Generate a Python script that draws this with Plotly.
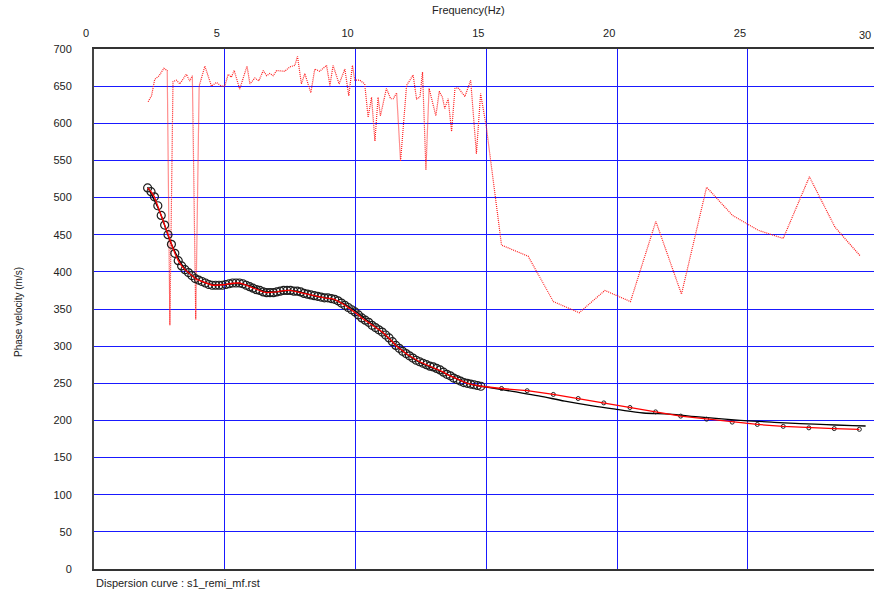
import plotly.graph_objects as go

# Observed dispersion points (dense part), Hz / m/s
obs_freq = [2.05, 2.18, 2.31, 2.44, 2.57, 2.70, 2.83, 2.96, 3.09, 3.22, 3.35, 3.48, 3.61, 3.74, 3.87,
            4.00, 4.13, 4.26, 4.39, 4.52, 4.65, 4.78, 4.91, 5.04, 5.17, 5.30, 5.43, 5.56, 5.69, 5.82,
            5.95, 6.08, 6.21, 6.34, 6.47, 6.60, 6.73, 6.86, 6.99, 7.12, 7.25, 7.38, 7.51, 7.64, 7.77,
            7.90, 8.03, 8.16, 8.29, 8.42, 8.55, 8.68, 8.81, 8.94, 9.07, 9.20, 9.33, 9.46, 9.59, 9.72,
            9.85, 9.98, 10.11, 10.24, 10.37, 10.50, 10.63, 10.76, 10.89, 11.02, 11.15, 11.28, 11.41,
            11.54, 11.67, 11.80, 11.93, 12.06, 12.19, 12.32, 12.45, 12.58, 12.71, 12.84, 12.97, 13.10,
            13.23, 13.36, 13.49, 13.62, 13.75, 13.88, 14.01, 14.14, 14.27, 14.40, 14.53, 14.66, 14.79]
obs_vel = [513, 508, 501, 489, 476, 463, 450, 437, 425, 415, 408, 403, 399, 395, 391,
           389, 387, 385, 383, 382, 382, 382, 382, 383, 384, 385, 385, 385, 384, 382,
           380, 378, 376, 375, 373, 372, 372, 372, 373, 374, 375, 375, 375, 374, 374,
           373, 371, 370, 369, 368, 367, 366, 365, 365, 364, 363, 361, 358, 355, 352,
           349, 346, 342, 338, 335, 332, 328, 325, 322, 319, 315, 311, 306,
           301, 297, 293, 290, 287, 284, 281, 279, 277, 275, 273, 272, 270,
           268, 265, 262, 260, 257, 255, 253, 251, 250, 249, 248, 247, 246]

# Observed dispersion points (sparse part)
obs2_freq = [15.58, 16.56, 17.56, 18.51, 19.49, 20.49, 21.47, 22.43, 23.42, 24.40, 25.36, 26.35, 27.33, 28.30, 29.26]
obs2_vel = [243, 240, 235, 229.5, 223.6, 217.4, 211.5, 205.8, 201.7, 197.7, 194.6, 192, 190, 189, 188]

# Theoretical dispersion curve
theo_freq = [2.05, 2.5, 3.0, 3.5, 4.0, 4.5, 5.0, 5.5, 6.0, 6.5, 7.0, 7.5, 8.0, 8.5, 9.0, 9.5, 10.0,
             10.5, 11.0, 11.5, 12.0, 12.5, 13.0, 13.5, 14.0, 14.5, 15.0, 16, 17, 18, 19, 20, 21, 22,
             23, 24, 25, 26, 27, 28, 29, 29.5]
theo_vel = [514, 482, 434, 403, 389, 383, 383, 384, 381, 374, 373, 375, 372, 367, 364, 358, 347,
            333, 319, 303, 288, 277, 270, 262, 254, 248, 245, 239, 233, 226, 220, 214.8, 210, 208.5,
            205, 202, 199.5, 197.5, 195.7, 194.3, 193, 192.5]

# Max-energy velocity picks (dotted red)
pick_freq = [2.07, 2.20, 2.32, 2.49, 2.67, 2.80, 2.90, 3.02, 3.15, 3.28, 3.53, 3.66, 3.76, 3.89, 4.02,
             4.24, 4.49, 4.68, 4.87, 5.00, 5.13, 5.25, 5.36, 5.57, 5.85, 5.96, 6.15, 6.30, 6.47, 6.60,
             6.72, 6.85, 6.98, 7.29, 7.49, 7.68, 7.78, 7.93, 8.06, 8.29, 8.44, 8.63, 8.89, 9.02, 9.14,
             9.37, 9.59, 9.74, 9.88, 9.97, 10.16, 10.35, 10.48, 10.61, 10.74, 10.86, 10.95, 11.18,
             11.34, 11.44, 11.57, 11.72, 11.95, 12.20, 12.33, 12.46, 12.56, 12.69, 12.81, 13.07,
             13.20, 13.32, 13.41, 13.54, 13.67, 13.80, 13.92, 14.18, 14.40, 14.62, 14.78, 15.00,
             15.58, 16.60, 17.56, 18.55, 19.53, 20.51, 21.48, 22.46, 23.42, 24.41, 25.39, 26.35,
             27.35, 28.33, 29.28]
pick_vel = [629, 637, 659, 664, 674, 671, 328, 656, 658, 653, 666, 657, 664, 336, 650,
            677, 650, 655, 650, 650, 666, 662, 671, 646, 677, 653, 661, 657, 671, 664,
            667, 664, 671, 670, 676, 678, 690, 653, 667, 641, 673, 670, 678, 651, 678,
            653, 673, 637, 678, 658, 658, 653, 608, 635, 576, 635, 610, 647,
            633, 633, 641, 549, 651, 665, 633, 635, 669, 537, 647, 610,
            643, 635, 620, 633, 589, 647, 648, 636, 658, 559, 640, 595,
            436, 421, 360, 345, 375, 360, 468, 370, 514, 476, 456, 445,
            528, 460, 422]

x_ticks = [0, 5, 10, 15, 20, 25]
y_ticks = list(range(0, 701, 50))

FONT = "Liberation Sans Narrow, Arial Narrow, Liberation Sans, Arial, sans-serif"
GRID = "rgb(25,25,255)"

fig = go.Figure()

fig.add_trace(go.Scatter(x=pick_freq, y=pick_vel, mode="lines",
                         line=dict(color="rgb(255,30,30)", width=1.2, dash="1px,1px"),
                         showlegend=False, hoverinfo="skip"))
fig.add_trace(go.Scatter(x=theo_freq, y=theo_vel, mode="lines", line_shape="spline",
                         line=dict(color="black", width=1.3), showlegend=False))
fig.add_trace(go.Scatter(x=obs_freq, y=obs_vel, mode="markers",
                         marker=dict(symbol="circle-open", size=8, color="rgb(30,30,30)",
                                     line=dict(width=1.2)), showlegend=False))
fig.add_trace(go.Scatter(x=obs2_freq, y=obs2_vel, mode="markers",
                         marker=dict(symbol="circle-open", size=4, color="rgb(30,30,30)",
                                     line=dict(width=1)), showlegend=False))
fig.add_trace(go.Scatter(x=obs_freq + obs2_freq, y=obs_vel + obs2_vel, mode="lines",
                         line=dict(color="red", width=1.3), showlegend=False))

# plot area lands at x 94..874, y 49..569 of the window (body margin removed below)
fig.update_layout(
    width=874, height=597,
    margin=dict(l=94, r=0, t=49, b=28),
    paper_bgcolor="white", plot_bgcolor="white",
    font=dict(family=FONT, size=10, color="#222"),
    xaxis=dict(range=[0, 29.82], side="top", tickvals=x_ticks, ticktext=[str(v) for v in x_ticks],
               showgrid=True, gridcolor=GRID, gridwidth=1, zeroline=False,
               showline=True, linecolor="#333", linewidth=2, mirror=True,
               ticks="", ticklabelshift=-8, ticklabelstandoff=6,
               tickfont=dict(family=FONT, size=11, color="#222")),
    yaxis=dict(range=[0, 700], tickvals=y_ticks, ticktext=[str(v) for v in y_ticks],
               showgrid=True, gridcolor=GRID, gridwidth=1, zeroline=False,
               showline=True, linecolor="#444", linewidth=2, mirror=False,
               ticks="", ticklabelstandoff=18,
               tickfont=dict(family=FONT, size=11, color="#222")),
    annotations=[
        dict(text="Frequency(Hz)", xref="paper", yref="paper", x=(468 - 94) / 780, y=1 + (49 - 10) / 520,
             xanchor="center", yanchor="middle", showarrow=False, font=dict(family=FONT, size=11, color="#222")),
        dict(text="30", xref="paper", yref="paper", x=(873 - 94) / 780, y=1 + (49 - 35) / 520,
             xanchor="right", yanchor="middle", showarrow=False, font=dict(family=FONT, size=11, color="#222")),
        dict(text="Phase velocity (m/s)", xref="paper", yref="paper", x=(18 - 94) / 780, y=(569 - 312) / 520,
             xanchor="center", yanchor="middle", textangle=-90, showarrow=False,
             font=dict(family="Liberation Sans, Arial, sans-serif", size=10, color="#222")),
        dict(text="Dispersion curve : s1_remi_mf.rst", xref="paper", yref="paper", x=0, y=-(583 - 569) / 520,
             xanchor="left", yanchor="middle", showarrow=False, font=dict(family=FONT, size=11, color="#222")),
    ],
)

fig.write_html("out.html", config={"displayModeBar": False},
               post_script="document.body.style.margin='0';document.body.style.overflow='hidden';")
